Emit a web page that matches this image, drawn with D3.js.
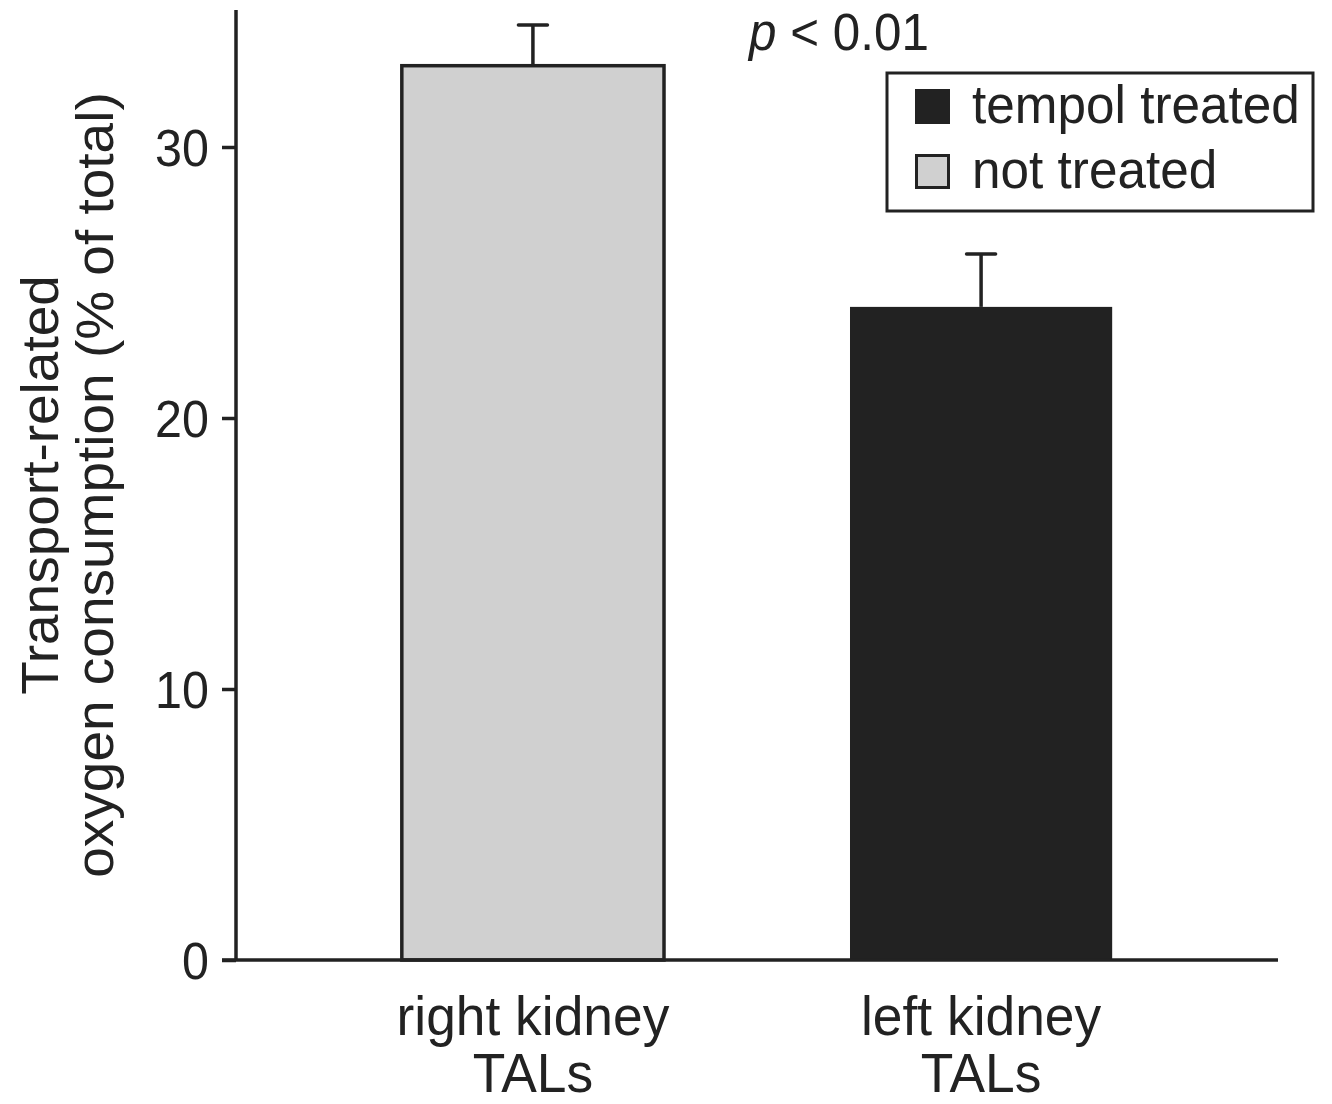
<!DOCTYPE html>
<html>
<head>
<meta charset="utf-8">
<script src="https://cdn.jsdelivr.net/npm/d3@7/dist/d3.min.js"></script>
<style>
  html, body { margin: 0; padding: 0; background: #fff; }
  svg { display: block; }
  text { font-family: "Liberation Sans", Arial, Helvetica, sans-serif; fill: #222; }
</style>
</head>
<body>
<script>
// ---- data ----
const categories = ["right kidney\nTALs", "left kidney\nTALs"];
const means = [33.0, 24.1];
const errors = [1.5, 1.95];
const groups = ["not treated", "tempol treated"];
const legendLabels = ["tempol treated", "not treated"];
const yTicks = [0, 10, 20, 30];
const yLabelLines = ["Transport-related", "oxygen consumption (% of total)"];
const annotation = "< 0.01";

const colors = { "not treated": "#d0d0d0", "tempol treated": "#222222" };
const ink = "#222222";
const squeeze = 0.95; // horizontal text compression seen in the figure

const W = 1332, H = 1104;
const svg = d3.select("body").append("svg").attr("width", W).attr("height", H);

const y = d3.scaleLinear().domain([0, 35]).range([960, 960 - 35 * 27.1]);
const x = d3.scaleBand().domain(categories).range([236, 1278])
  .paddingInner(0.415).paddingOuter(0.37);

function label(parent, tx, ty, size, anchor, str, sx) {
  return parent.append("text")
    .attr("transform", `translate(${tx},${ty}) scale(${sx || squeeze},1)`)
    .attr("text-anchor", anchor)
    .style("font-size", size + "px")
    .text(str);
}

// bars
const bars = svg.append("g");
categories.forEach((c, i) => {
  const g = groups[i];
  bars.append("rect")
    .attr("x", x(c))
    .attr("y", y(means[i]))
    .attr("width", x.bandwidth())
    .attr("height", y(0) - y(means[i]))
    .attr("fill", colors[g])
    .attr("stroke", g === "not treated" ? ink : "none")
    .attr("stroke-width", 3.5);
  const cx = x(c) + x.bandwidth() / 2;
  bars.append("line")
    .attr("x1", cx).attr("x2", cx)
    .attr("y1", y(means[i])).attr("y2", y(means[i] + errors[i]))
    .attr("stroke", ink).attr("stroke-width", 3.5);
  bars.append("line")
    .attr("x1", cx - 14.5).attr("x2", cx + 14.5)
    .attr("y1", y(means[i] + errors[i])).attr("y2", y(means[i] + errors[i]))
    .attr("stroke", ink).attr("stroke-width", 3.5).attr("stroke-linecap", "round");
});

// y axis
const yAxis = svg.append("g").attr("transform", "translate(236,0)")
  .call(d3.axisLeft(y).tickValues(yTicks).tickSize(14).tickPadding(13).tickSizeOuter(0));
yAxis.select(".domain").remove();
yAxis.append("line").attr("x1", 0).attr("x2", 0).attr("y1", 10).attr("y2", 960)
  .attr("stroke", ink).attr("stroke-width", 3.5);
yAxis.selectAll(".tick line").attr("stroke", ink).attr("stroke-width", 3.5);
yAxis.selectAll(".tick text").each(function() {
  const t = d3.select(this);
  const tx = +t.attr("x");
  t.attr("x", null).attr("dy", "0.36em")
   .attr("transform", `translate(${tx},0) scale(${squeeze},1)`)
   .style("font-size", "51px").style("font-family", "'Liberation Sans', Arial, sans-serif")
   .attr("fill", ink);
});

// x axis line
svg.append("line").attr("x1", 222).attr("x2", 1278).attr("y1", y(0)).attr("y2", y(0))
  .attr("stroke", ink).attr("stroke-width", 3.5);

// x labels
categories.forEach(c => {
  const cx = x(c) + x.bandwidth() / 2;
  c.split("\n").forEach((ln, j) => label(svg, cx, 1035 + j * 57, 55, "middle", ln, 0.97));
});

// y label
const yl = svg.append("g").attr("transform", "translate(0,485) rotate(-90)");
yLabelLines.forEach((ln, j) => {
  yl.append("text")
    .attr("transform", `translate(0,${58 + j * 55}) scale(1,${squeeze})`)
    .attr("text-anchor", "middle").style("font-size", "55px").text(ln);
});

// annotation
const ann = svg.append("text")
  .attr("transform", `translate(839,50) scale(${squeeze},1)`)
  .attr("text-anchor", "middle").style("font-size", "52px");
ann.append("tspan").style("font-style", "italic").text("p");
ann.append("tspan").text(" " + annotation);

// legend
const lg = svg.append("g");
lg.append("rect").attr("x", 887).attr("y", 73).attr("width", 426).attr("height", 138)
  .attr("fill", "#fff").attr("stroke", ink).attr("stroke-width", 3);
legendLabels.forEach((lab, i) => {
  const yy = 89 + i * 65;
  lg.append("rect").attr("x", 916.5).attr("y", yy + 1.5).attr("width", 32).attr("height", 32)
    .attr("fill", colors[lab]).attr("stroke", ink).attr("stroke-width", 3);
  label(lg, 972, yy + 34, 54, "start", lab);
});
</script>
</body>
</html>
